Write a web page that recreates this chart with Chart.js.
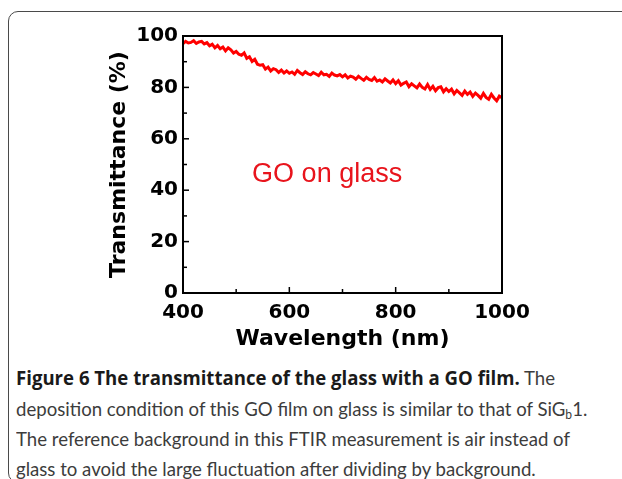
<!DOCTYPE html>
<html>
<head>
<meta charset="utf-8">
<script src="https://cdn.jsdelivr.net/npm/chart.js@4.4.0/dist/chart.umd.min.js"></script>
<style>
  html, body { margin: 0; padding: 0; background: #fff; }
  body { width: 622px; height: 479px; position: relative; overflow: hidden; }
  #frame { position: absolute; left: 8px; top: 11px; width: 700px; height: 472px; border: 1.5px solid #4a4a4a; border-radius: 10px; box-sizing: border-box; }
  #chartBox { position: absolute; left: 0; top: 0; width: 622px; height: 360px; }
  #caption { position: absolute; left: 16px; top: 362px; font-family: Lato, "Open Sans", sans-serif; font-size: 20px; line-height: 30px; color: #3c3c3c; white-space: nowrap; transform-origin: 0 0; transform: scaleX(0.93); }
  #caption b { color: #1a1a1a; font-weight: 700; font-family: "Open Sans", Lato, sans-serif; }
  #caption sub { font-size: 0.65em; vertical-align: -0.2em; line-height: 0; }
</style>
</head>
<body>
<div id="frame"></div>
<div id="chartBox"><canvas id="chart" width="622" height="360"></canvas></div>
<div id="caption">
  <div><b>Figure 6 The transmittance of the glass with a GO film.</b> The</div>
  <div>deposition condition of this GO film on glass is similar to that of SiG<sub>b</sub>1.</div>
  <div>The reference background in this FTIR measurement is air instead of</div>
  <div>glass to avoid the large fluctuation after dividing by background.</div>
</div>
<script>
// wavelength (nm)
const wavelengths = [
  400, 405, 410, 415, 420, 425, 430, 435, 440, 445,
  450, 455, 460, 465, 470, 475, 480, 485, 490, 495,
  500, 505, 510, 515, 520, 525, 530, 535, 540, 545,
  550, 555, 560, 565, 570, 575, 580, 585, 590, 595,
  600, 605, 610, 615, 620, 625, 630, 635, 640, 645,
  650, 655, 660, 665, 670, 675, 680, 685, 690, 695,
  700, 705, 710, 715, 720, 725, 730, 735, 740, 745,
  750, 755, 760, 765, 770, 775, 780, 785, 790, 795,
  800, 805, 810, 815, 820, 825, 830, 835, 840, 845,
  850, 855, 860, 865, 870, 875, 880, 885, 890, 895,
  900, 905, 910, 915, 920, 925, 930, 935, 940, 945,
  950, 955, 960, 965, 970, 975, 980, 985, 990, 995,
  1000
];

// transmittance (%)
const transmittance = [
  97.0, 97.9, 97.3, 97.5, 98.2, 97.1, 97.7, 97.9, 96.9, 97.4,
  96.2, 96.8, 95.4, 96.3, 95.0, 95.7, 94.2, 95.4, 94.6, 93.4,
  94.0, 92.9, 92.5, 93.4, 91.3, 91.9, 90.1, 90.9, 89.0, 88.6,
  88.8, 87.1, 87.9, 86.4, 87.3, 86.9, 85.8, 86.7, 85.6, 86.4,
  85.5, 86.0, 85.1, 86.6, 85.7, 85.0, 86.1, 85.3, 84.9, 85.8,
  85.2, 84.6, 85.9, 84.9, 85.1, 84.3, 85.6, 84.8, 84.5, 85.0,
  84.1, 84.9, 83.7, 84.4, 84.0, 83.2, 84.3, 83.5, 82.8, 83.9,
  83.1, 82.7, 83.8, 82.4, 82.9, 82.1, 83.3, 82.5, 81.7, 82.9,
  81.5, 82.6, 80.9, 81.6, 82.1, 80.3, 81.4, 80.6, 79.8, 81.3,
  80.0, 79.4, 81.1, 79.2, 80.4, 78.7, 79.9, 80.2, 78.3, 79.5,
  78.4, 79.3, 77.5, 78.8, 77.9, 76.9, 78.6, 77.3, 78.2, 76.5,
  77.8, 76.9, 75.8, 77.7, 76.1, 75.4, 77.3, 75.9, 74.8, 76.6,
  76.0
];

const xMajor = [400, 600, 800, 1000];
const xMinor = [500, 700, 900];
const yMajor = [0, 20, 40, 60, 80, 100];
const yMinor = [10, 30, 50, 70, 90];

const sampleLabel = 'GO on glass';
const labelAt = { x: 530, y: 46 };

const points = wavelengths.map((w, i) => ({ x: w, y: transmittance[i] }));

// box around the plot + inward ticks + the red label
const frameTicks = {
  id: 'frameTicks',
  afterDatasetsDraw(chart) {
    const { ctx, chartArea: a, scales: { x, y } } = chart;
    ctx.save();
    ctx.strokeStyle = '#000';

    function seg(x1, y1, x2, y2) {
      ctx.beginPath();
      ctx.moveTo(x1, y1);
      ctx.lineTo(x2, y2);
      ctx.stroke();
    }

    ctx.lineWidth = 1.5;
    xMajor.forEach(v => { const p = x.getPixelForValue(v); seg(p, a.bottom, p, a.bottom - 6); });
    xMinor.forEach(v => { const p = x.getPixelForValue(v); seg(p, a.bottom, p, a.bottom - 4); });
    yMajor.forEach(v => { const p = y.getPixelForValue(v); seg(a.left, p, a.left + 6, p); });
    yMinor.forEach(v => { const p = y.getPixelForValue(v); seg(a.left, p, a.left + 4, p); });

    ctx.lineWidth = 2;
    ctx.strokeRect(a.left, a.top, a.right - a.left, a.bottom - a.top);

    ctx.fillStyle = '#e8141c';
    ctx.font = '27px "Liberation Sans", Arial, sans-serif';
    ctx.textAlign = 'left';
    ctx.textBaseline = 'middle';
    ctx.fillText(sampleLabel, x.getPixelForValue(labelAt.x), y.getPixelForValue(labelAt.y));
    ctx.restore();
  }
};

Chart.defaults.font.family = '"DejaVu Sans", sans-serif';
Chart.defaults.color = '#000';

new Chart(document.getElementById('chart'), {
  type: 'line',
  data: {
    datasets: [{
      data: points,
      borderColor: '#ff0000',
      borderWidth: 3,
      pointRadius: 0,
      tension: 0,
      fill: false
    }]
  },
  options: {
    responsive: false,
    animation: false,
    devicePixelRatio: 1,
    layout: { padding: { left: 95, right: 120, top: 36, bottom: 0 } },
    plugins: { legend: { display: false }, tooltip: { enabled: false } },
    scales: {
      x: {
        type: 'linear',
        min: 400,
        max: 1000,
        grid: { display: false, drawTicks: false },
        border: { display: false },
        ticks: { stepSize: 200, padding: 8, font: { size: 20, weight: 'bold' }, color: '#000', callback: v => String(v) },
        title: { display: true, text: 'Wavelength (nm)', font: { size: 22, weight: 'bold' }, color: '#000', padding: { top: 0, bottom: 8 } },
        afterFit: s => { s.height = 67; }
      },
      y: {
        min: 0,
        max: 100,
        grid: { display: false, drawTicks: false },
        border: { display: false },
        ticks: { stepSize: 20, padding: 5, font: { size: 20, weight: 'bold' }, color: '#000' },
        title: { display: true, text: 'Transmittance (%)', font: { size: 22, weight: 'bold' }, color: '#000', padding: { top: 11, bottom: 0 } },
        afterFit: s => { s.width = 88; }
      }
    }
  },
  plugins: [frameTicks]
});
</script>
</body>
</html>
